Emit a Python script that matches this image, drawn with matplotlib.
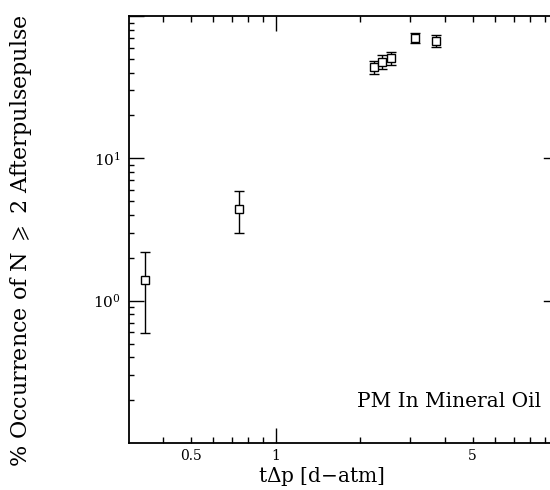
import math
import matplotlib
matplotlib.use("Agg")
import matplotlib.pyplot as plt
from matplotlib.ticker import FixedLocator, FuncFormatter, NullFormatter, LogLocator

# Data
t_dp = [0.343, 0.739, 2.23, 2.39, 2.57, 3.11, 3.71]
occ = [1.40, 4.44, 43.9, 47.6, 50.6, 70.6, 67.0]
occ_hi = [2.21, 5.85, 48.4, 53.0, 56.0, 76.2, 73.4]
occ_lo = [0.59, 3.00, 39.2, 42.7, 45.5, 64.1, 60.7]

x_major = [1]
x_minor_labels = {0.5: "0.5", 5: "5"}

plt.rcParams['font.family'] = ['DejaVu Serif']
plt.rcParams['mathtext.fontset'] = 'dejavuserif'

fig = plt.figure(figsize=(5.5, 4.9), dpi=100)
ax = fig.add_axes([129/550, (490-443)/490, (550-129)/550, (443-16)/490])

err_lo = [o - l for o, l in zip(occ, occ_lo)]
err_hi = [h - o for o, h in zip(occ, occ_hi)]
ax.errorbar(t_dp, occ, yerr=[err_lo, err_hi], fmt='s', mfc='white', mec='black',
            ms=6, mew=1.0, ecolor='black', elinewidth=1.0, capsize=3.5, capthick=1.0,
            color='black', zorder=3)

ax.set_xscale('log')
ax.set_yscale('log')
ax.set_xlim(0.302, 9.4)
ax.set_ylim(0.1, 100)

ax.xaxis.set_major_locator(FixedLocator(x_major))
ax.xaxis.set_major_formatter(FuncFormatter(lambda v, p: "%g" % v))
ax.xaxis.set_minor_locator(LogLocator(base=10, subs=range(2, 10)))
ax.xaxis.set_minor_formatter(FuncFormatter(
    lambda v, p: next((s for k, s in x_minor_labels.items() if abs(v - k) < 1e-6), "")))

ax.yaxis.set_major_locator(FixedLocator([1, 10, 100]))
ax.yaxis.set_major_formatter(FuncFormatter(
    lambda v, p: "" if v > 50 else r"$10^{%d}$" % round(math.log10(v))))
ax.yaxis.set_minor_locator(LogLocator(base=10, subs=range(2, 10)))
ax.yaxis.set_minor_formatter(NullFormatter())

ax.tick_params(axis='x', which='major', direction='in', length=11, width=1.0,
               top=True, bottom=True, labelsize=10, pad=4.5)
ax.tick_params(axis='x', which='minor', direction='in', length=4, width=1.0,
               top=True, bottom=True, labelsize=10, pad=4.5)
ax.tick_params(axis='y', which='major', direction='in', length=11, width=1.0,
               left=True, right=False, labelsize=11, pad=6)
ax.tick_params(axis='y', which='minor', direction='in', length=3.5, width=1.0,
               left=True, right=False)

# right-side short major ticks
for yv in [1, 10]:
    ax.plot([0.985, 1.0], [yv, yv], transform=ax.get_yaxis_transform(),
            color='black', lw=1.0, clip_on=False)

for s in ['left', 'bottom', 'top']:
    ax.spines[s].set_linewidth(1.3)
ax.spines['right'].set_visible(False)

ax.set_xlabel(r"t$\Delta$p [d$-$atm]", fontsize=14.5)
ax.xaxis.set_label_coords(0.458, -0.052)
ax.set_ylabel(r"% Occurrence of N $\geqslant$ 2 Afterpulsepulse", fontsize=16)
ax.yaxis.set_label_coords(-0.225, 0.475)

ax.text(0.98, 0.098, "PM In Mineral Oil", transform=ax.transAxes, ha='right',
        va='center', fontsize=14.5)

fig.savefig("out.png", dpi=100)
